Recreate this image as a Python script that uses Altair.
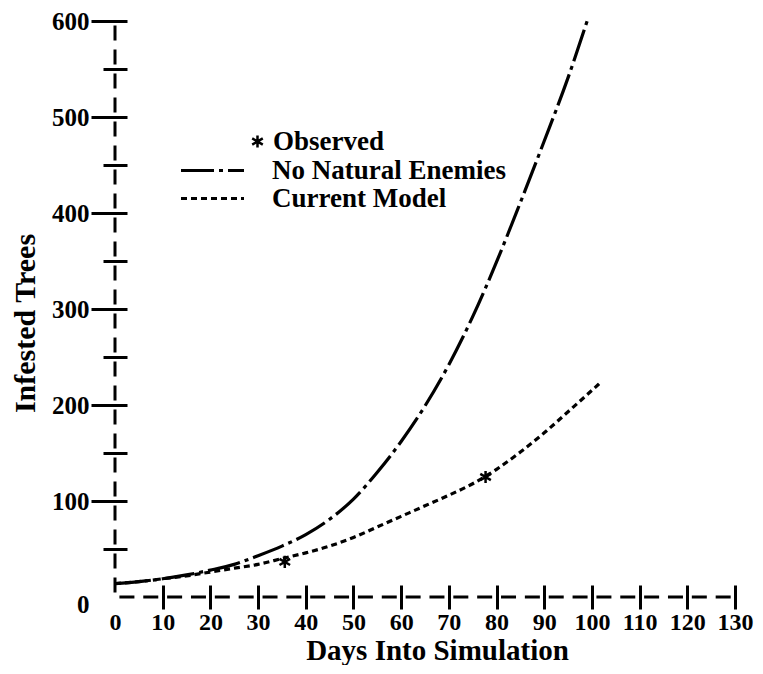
import altair as alt
import pandas as pd

FONT = "Liberation Serif"

# ---- data ----
x_domain = [0, 130]
y_domain = [0, 600]
x_ticks = list(range(0, 131, 5))
y_ticks = list(range(0, 601, 25))

days_ne = [0, 5, 10, 15, 20, 25, 30, 35, 40, 45, 50, 55, 60, 65, 70, 75, 80, 85, 90, 95, 99]
trees_ne = [14, 16, 19, 23, 28, 34, 43, 53, 65, 81, 102, 130, 162, 199, 242, 292, 349, 411, 475, 541, 600]

days_cm = [0, 5, 10, 15, 20, 25, 30, 35, 40, 45, 50, 55, 60, 65, 70, 75, 80, 85, 90, 95, 101.5]
trees_cm = [14, 16, 19, 22, 26, 30, 34, 40, 46, 53, 62, 73, 84, 95, 106, 118, 133, 151, 171, 193, 222]

obs_days = [35.6, 77.7]
obs_trees = [36.5, 125]

name_ne = "No Natural Enemies"
name_cm = "Current Model"
name_obs = "Observed"
dash_ne = [33, 5, 4, 5]
dash_cm = [6, 4]
ASTERISK = "M0,-1L0,1M-0.866,-0.5L0.866,0.5M-0.866,0.5L0.866,-0.5"

ne_df = pd.DataFrame({"day": days_ne, "trees": trees_ne, "series": [name_ne] * len(days_ne)})
cm_df = pd.DataFrame({"day": days_cm, "trees": trees_cm, "series": [name_cm] * len(days_cm)})
obs_df = pd.DataFrame({"day": obs_days, "trees": obs_trees, "series": [name_obs] * len(obs_days)})
frame_df = pd.DataFrame({"x0": [x_domain[0]], "x1": [x_domain[1]], "y0": [y_domain[0]], "y1": [y_domain[1]]})

x_scale = alt.Scale(domain=x_domain, nice=False, zero=False)
y_scale = alt.Scale(domain=y_domain, nice=False, zero=False)

x_axis = alt.Axis(
    values=x_ticks, orient="bottom", offset=-12, domain=False, grid=False,
    tickSize=24, tickWidth=3, tickColor="black",
    tickOpacity={"condition": {"test": "datum.value === 0", "value": 0}, "value": 1},
    labelExpr="datum.value % 10 === 0 ? datum.label : ''",
    labelFont=FONT, labelFontSize=24, labelFontWeight="bold", labelColor="black",
    labelPadding=1, labelOverlap=False, labelFlush=False, labelBound=False,
    title="Days Into Simulation", titleFont=FONT, titleFontSize=29, titleFontWeight="bold",
    titleColor="black", titleX=322, titleY=74, titleBaseline="alphabetic", titleAlign="center",
)
y_axis = alt.Axis(
    values=y_ticks, orient="left", offset=-12, domain=False, grid=False,
    tickSize={"condition": {"test": "datum.value % 100 === 0", "value": 36}, "value": 24},
    tickWidth=3, tickColor="black",
    tickOpacity={"condition": {"test": "datum.value === 0", "value": 0}, "value": 1},
    labelExpr="datum.value % 100 === 0 ? datum.label : ''",
    labelOffset={"condition": {"test": "datum.value === 0", "value": 7}, "value": 0},
    labelFont=FONT, labelFontSize=25, labelFontWeight="bold", labelColor="black",
    labelPadding=2, labelOverlap=False, labelFlush=False, labelBound=False,
    title="Infested Trees", titleFont=FONT, titleFontSize=30, titleFontWeight="bold",
    titleColor="black", titleX=-102, titleY=302, titleBaseline="middle", titleAlign="center",
    titleAngle=270,
)


def line_legend(y_pos):
    return alt.Legend(
        title=None, orient="none", legendX=64, legendY=y_pos, symbolType="stroke",
        symbolSize=3969, symbolStrokeWidth=3.2, symbolStrokeColor="black", symbolOpacity=1,
        labelFont=FONT, labelFontSize=27, labelFontWeight="bold", labelColor="black",
        labelOffset=26, labelLimit=400, padding=0,
    )


line_ne = alt.Chart(ne_df).mark_line(color="black", strokeWidth=3.2, interpolate="monotone").encode(
    x=alt.X("day:Q", scale=x_scale, axis=x_axis),
    y=alt.Y("trees:Q", scale=y_scale, axis=y_axis),
    strokeDash=alt.StrokeDash("series:N", scale=alt.Scale(domain=[name_ne], range=[dash_ne]),
                              legend=line_legend(116)),
)
line_cm = alt.Chart(cm_df).mark_line(color="black", strokeWidth=3.2, interpolate="monotone").encode(
    x=alt.X("day:Q", scale=x_scale),
    y=alt.Y("trees:Q", scale=y_scale),
    strokeDash=alt.StrokeDash("series:N", scale=alt.Scale(domain=[name_cm], range=[dash_cm]),
                              legend=line_legend(144)),
)

points = alt.Chart(obs_df).mark_point(filled=False, color="black", opacity=1, strokeWidth=2.5, size=150).encode(
    x=alt.X("day:Q", scale=x_scale),
    y=alt.Y("trees:Q", scale=y_scale),
    shape=alt.Shape(
        "series:N",
        scale=alt.Scale(domain=[name_obs], range=[ASTERISK]),
        legend=alt.Legend(
            title=None, orient="none", legendX=129, legendY=107,
            symbolSize=150, symbolStrokeWidth=2.5, symbolStrokeColor="black",
            symbolFillColor="transparent", symbolOpacity=1,
            labelFont=FONT, labelFontSize=27, labelFontWeight="bold", labelColor="black",
            labelOffset=2, labelLimit=400, padding=0,
        ),
    ),
)

y_line = alt.Chart(frame_df).mark_rule(color="black", strokeWidth=3, strokeDash=[15, 9], strokeDashOffset=19.5).encode(
    x=alt.X("x0:Q", scale=x_scale),
    y=alt.Y("y1:Q", scale=y_scale),
    y2="y0:Q",
)
x_line = alt.Chart(frame_df).mark_rule(color="black", strokeWidth=3, strokeDash=[15, 8.85], strokeDashOffset=19.43).encode(
    x=alt.X("x0:Q", scale=x_scale),
    x2="x1:Q",
    y=alt.Y("y0:Q", scale=y_scale),
)

chart = alt.layer(y_line, x_line, line_ne, line_cm, points).properties(
    width=620, height=576,
    autosize=alt.AutoSizeParams(type="none"),
    padding={"left": 107, "top": 13, "right": 20, "bottom": 68},
    background="white",
).resolve_scale(strokeDash="independent", shape="independent").configure_view(stroke=None)

chart.save("out.html", embed_options={"renderer": "svg", "actions": False})
